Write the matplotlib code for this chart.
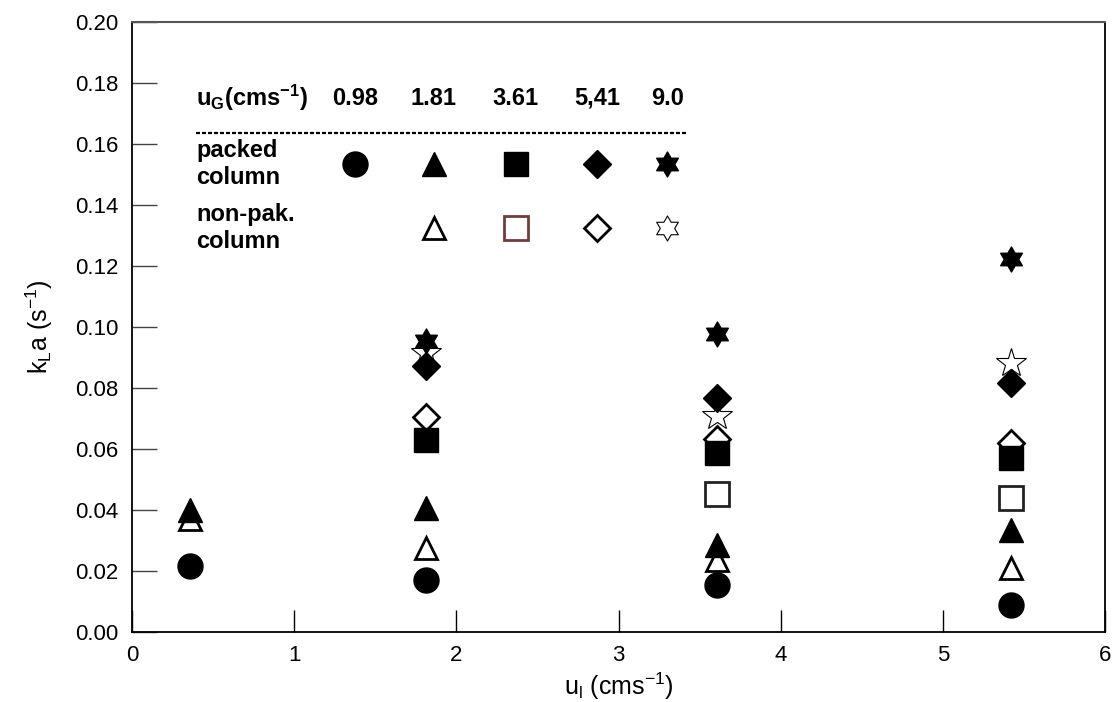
import matplotlib
matplotlib.use("Agg")
from matplotlib import pyplot as plt
from matplotlib.path import Path

plt.rcParams["font.family"] = ["Liberation Sans", "DejaVu Sans"]
plt.rcParams["mathtext.fontset"] = "custom"
plt.rcParams["mathtext.rm"] = "Liberation Sans"
plt.rcParams["mathtext.bf"] = "Liberation Sans:bold"
plt.rcParams["mathtext.default"] = "regular"

# gas velocities u_G (cm/s) shown in the key
ug_labels = ["0.98", "1.81", "3.61", "5,41", "9.0"]

# liquid velocity u_l (cm/s) and kLa (1/s), packed column
pk_circle_x = [0.36, 1.81, 3.61, 5.42]
pk_circle_y = [0.0216, 0.0170, 0.0153, 0.0088]
pk_tri_x = [0.36, 1.81, 3.61, 5.42]
pk_tri_y = [0.0400, 0.0405, 0.0284, 0.0333]
pk_square_x = [1.81, 3.61, 5.42]
pk_square_y = [0.0630, 0.0588, 0.0572]
pk_diamond_x = [1.81, 3.61, 5.42]
pk_diamond_y = [0.0873, 0.0768, 0.0817]
pk_star_x = [1.81, 3.61, 5.42]
pk_star_y = [0.0954, 0.0977, 0.1222]

# non-packed column
np_tri_x = [0.36, 1.81, 3.61, 5.42]
np_tri_y = [0.0369, 0.0275, 0.0235, 0.0209]
np_square_x = [3.61, 5.42]
np_square_y = [0.0454, 0.0438]
np_diamond_x = [1.81, 3.61, 5.42]
np_diamond_y = [0.0704, 0.0634, 0.0620]
np_star_x = [1.81, 3.61, 5.42]
np_star_y = [0.0915, 0.0709, 0.0882]

hexagram = Path.unit_regular_star(6, innerCircle=0.577)


def main():
    fig = plt.figure(figsize=(11.14, 7.02), dpi=100)
    ax = fig.add_axes([0.1185, 0.0997, 0.8735, 0.869])

    # open markers first so the filled ones sit on top
    ax.plot(np_tri_x, np_tri_y, ls="none", marker="^", ms=16, mfc="white", mec="black", mew=2)
    ax.plot(np_square_x, np_square_y, ls="none", marker="s", ms=17, mfc="white", mec="#222222", mew=2)
    ax.plot(np_diamond_x, np_diamond_y, ls="none", marker="D", ms=13, mfc="white", mec="black", mew=2)
    ax.plot(np_star_x, np_star_y, ls="none", marker="*", ms=22, mfc="white", mec="black", mew=0.8)

    ax.plot(pk_circle_x, pk_circle_y, ls="none", marker="o", ms=18, color="black")
    ax.plot(pk_tri_x, pk_tri_y, ls="none", marker="^", ms=17, color="black")
    ax.plot(pk_square_x, pk_square_y, ls="none", marker="s", ms=17, color="black")
    ax.plot(pk_diamond_x, pk_diamond_y, ls="none", marker="D", ms=14, color="black")
    ax.plot(pk_star_x, pk_star_y, ls="none", marker=hexagram, ms=18, color="black")

    # hand-made key table in the upper left
    key_x = [0.229, 0.310, 0.3945, 0.478, 0.550]
    row_packed = 0.7675
    row_open = 0.662
    tr = ax.transAxes
    bold = dict(transform=tr, fontsize=17, fontweight="bold", va="center")
    ax.text(0.0658, 0.875, r"u$_{\mathbf{G}}$(cms$^{\mathbf{-1}}$)", ha="left", **bold)
    for xk, lab in zip(key_x, ug_labels):
        ax.text(xk, 0.875, lab, ha="center", **bold)
    ax.plot([0.0658, 0.570], [0.8185, 0.8185], transform=tr, color="black",
            lw=1.6, ls=(0, (1.8, 0.9)))
    ax.text(0.0658, row_packed, "packed\ncolumn", ha="left", linespacing=1.2, **bold)
    ax.text(0.0658, row_open, "non-pak.\ncolumn", ha="left", linespacing=1.2, **bold)

    filled = [("o", 18), ("^", 17), ("s", 17), ("D", 14), (hexagram, 18)]
    for xk, (m, ms) in zip(key_x, filled):
        ax.plot([xk], [row_packed], transform=tr, marker=m, ms=ms, color="black", ls="none")
    ax.plot([key_x[1]], [row_open], transform=tr, marker="^", ms=16, mfc="white", mec="black", mew=2, ls="none")
    ax.plot([key_x[2]], [row_open], transform=tr, marker="s", ms=17, mfc="white", mec="#703c3c", mew=2, ls="none")
    ax.plot([key_x[3]], [row_open], transform=tr, marker="D", ms=13, mfc="white", mec="black", mew=2, ls="none")
    ax.plot([key_x[4]], [row_open], transform=tr, marker=hexagram, ms=18, mfc="white", mec="black", mew=0.8, ls="none")

    ax.set_xlim(0, 6)
    ax.set_ylim(0, 0.20)
    ax.set_xticks(range(0, 7))
    ax.set_yticks([i * 0.02 for i in range(11)])
    ax.set_yticklabels([f"{i * 0.02:.2f}" for i in range(11)])
    ax.tick_params(axis="x", direction="in", length=16, width=1, labelsize=16, pad=9)
    ax.tick_params(axis="y", direction="in", length=18, width=1, color="#444444", labelsize=16, pad=10)
    for side in ["left", "bottom", "right"]:
        ax.spines[side].set_linewidth(1.3)
    ax.spines["top"].set_color("#555555")
    ax.spines["top"].set_linewidth(1.5)

    ax.set_xlabel("u$_l$ (cms$^{-1}$)", fontsize=18, labelpad=4)
    ax.set_ylabel("k$_L$a (s$^{-1}$)", fontsize=18, labelpad=14)

    fig.savefig("out.png", dpi=100)


if __name__ == "__main__":
    main()
